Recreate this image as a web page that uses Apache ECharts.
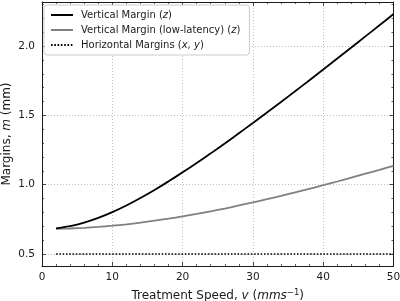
<!DOCTYPE html>
<html>
<head>
<meta charset="utf-8">
<script src="https://cdn.jsdelivr.net/npm/echarts@6/dist/echarts.min.js"></script>
<style>
  html, body { margin: 0; padding: 0; background: #fff; }
  #chart { width: 400px; height: 301px; }
</style>
</head>
<body>
<div id="chart"></div>
<script>
// 数据
var speeds = [2, 4, 6, 8, 10, 12, 14, 16, 18, 20, 22, 24, 26, 28, 30, 32, 34, 36, 38, 40, 42, 44, 46, 48, 50];
var verticalMargin = [0.685, 0.701, 0.726, 0.760, 0.802, 0.850, 0.904, 0.962, 1.024, 1.089, 1.156, 1.226, 1.297,
  1.371, 1.445, 1.521, 1.597, 1.674, 1.752, 1.831, 1.910, 1.990, 2.070, 2.150, 2.231];
var lowLatencyMargin = [0.681, 0.684, 0.689, 0.695, 0.704, 0.714, 0.726, 0.740, 0.755, 0.771, 0.789, 0.808, 0.828,
  0.850, 0.872, 0.895, 0.919, 0.944, 0.970, 0.996, 1.023, 1.051, 1.079, 1.107, 1.136];
var horizontalSpeeds = [2, 50];
var horizontalMargin = [0.5, 0.5];
var xTicks = [0, 10, 20, 30, 40, 50];

var seriesNames = ['Vertical Margin (z)', 'Vertical Margin (low-latency) (z)', 'Horizontal Margins (x, y)'];
var legendLabels = {
  'Vertical Margin (z)': '{n|Vertical Margin (}{i|z}{n|)}',
  'Vertical Margin (low-latency) (z)': '{n|Vertical Margin (low-latency) (}{i|z}{n|)}',
  'Horizontal Margins (x, y)': '{n|Horizontal Margins (}{i|x}{n|, }{i|y}{n|)}'
};

var FONT = 'DejaVu Sans';

function pairs(xs, ys) {
  var out = [];
  for (var i = 0; i < xs.length; i++) {
    out.push([xs[i], ys[i]]);
  }
  return out;
}

//坐标轴公共样式
function frameAxis(extra) {
  var base = {
    axisLine: { show: true, onZero: false, lineStyle: { color: '#1a1a1a', width: 1 } },
    axisTick: { show: true, inside: true, length: 4, lineStyle: { color: '#1a1a1a', width: 0.8 } },
    minorTick: { show: true, splitNumber: 5, length: 2, lineStyle: { color: '#1a1a1a', width: 0.7 } },
    splitLine: { show: false },
    axisLabel: { show: false }
  };
  for (var k in extra) base[k] = extra[k];
  return base;
}

var gridLine = { show: true, lineStyle: { color: '#b0b0b0', width: 0.8, type: [1, 2] } };

var option = {
  animation: false,
  backgroundColor: '#fff',
  textStyle: { fontFamily: FONT },
  grid: { left: 42, right: 6.5, top: 2, bottom: 35, outerBoundsMode: 'none', containLabel: false },
  legend: {
    orient: 'vertical',
    left: 44,
    top: 5,
    data: seriesNames,
    itemWidth: 22,
    itemHeight: 10,
    itemGap: 5,
    padding: [5, 9, 5, 6],
    backgroundColor: 'rgba(255,255,255,0.9)',
    borderColor: '#cccccc',
    borderWidth: 1,
    borderRadius: 3,
    itemStyle: { opacity: 0 },
    formatter: function(name) { return legendLabels[name]; },
    textStyle: {
      fontFamily: FONT,
      fontSize: 10,
      color: '#1a1a1a',
      padding: [0, 0, 0, 3],
      rich: {
        n: { fontFamily: FONT, fontSize: 10, color: '#1a1a1a' },
        i: { fontFamily: FONT, fontSize: 10, fontStyle: 'italic', color: '#1a1a1a' }
      }
    }
  },
  xAxis: [
    frameAxis({
      type: 'value', position: 'bottom', min: 0, max: 50, interval: 10,
      splitLine: gridLine,
      axisLabel: { show: true, margin: 6, fontFamily: FONT, fontSize: 10.5, color: '#1a1a1a',
        formatter: function(v) { return xTicks.indexOf(v) >= 0 ? String(v) : ''; } },
      name: '{n|Treatment Speed, }{i|v}{n| (}{i|mms}{s|−1}{n|)}',
      nameLocation: 'middle',
      nameGap: 22,
      nameMoveOverlap: false,
      nameTextStyle: {
        rich: {
          n: { fontFamily: FONT, fontSize: 12, color: '#1a1a1a', lineHeight: 16 },
          i: { fontFamily: FONT, fontSize: 12, fontStyle: 'italic', color: '#1a1a1a', lineHeight: 16 },
          s: { fontFamily: FONT, fontSize: 8.5, color: '#1a1a1a', lineHeight: 8, verticalAlign: 'top' }
        }
      }
    }),
    frameAxis({ type: 'value', position: 'top', min: 0, max: 50, interval: 10 })
  ],
  yAxis: [
    frameAxis({
      type: 'value', position: 'left', min: 0.4134, max: 2.318, splitNumber: 4,
      splitLine: gridLine,
      axisLabel: { show: true, margin: 7, fontFamily: FONT, fontSize: 10.5, color: '#1a1a1a',
        showMinLabel: false, showMaxLabel: false,
        formatter: function(v) { return Math.abs(v * 2 - Math.round(v * 2)) < 1e-6 ? v.toFixed(1) : ''; } },
      name: '{n|Margins, }{i|m}{n| (mm)}',
      nameLocation: 'middle',
      nameRotate: 90,
      nameGap: 29,
      nameMoveOverlap: false,
      nameTextStyle: {
        rich: {
          n: { fontFamily: FONT, fontSize: 12, color: '#1a1a1a' },
          i: { fontFamily: FONT, fontSize: 12, fontStyle: 'italic', color: '#1a1a1a' }
        }
      }
    }),
    frameAxis({ type: 'value', position: 'right', min: 0.4134, max: 2.318, splitNumber: 4 })
  ],
  series: [
    {
      name: seriesNames[0], type: 'line', symbol: 'none', z: 4, smooth: 0.2,
      data: pairs(speeds, verticalMargin),
      lineStyle: { color: '#000000', width: 1.8 },
      itemStyle: { color: '#000000' }
    },
    {
      name: seriesNames[1], type: 'line', symbol: 'none', z: 3, smooth: 0.2,
      data: pairs(speeds, lowLatencyMargin),
      lineStyle: { color: '#808080', width: 1.8 },
      itemStyle: { color: '#808080' }
    },
    {
      name: seriesNames[2], type: 'line', symbol: 'none', z: 3,
      data: pairs(horizontalSpeeds, horizontalMargin),
      lineStyle: { color: '#000000', width: 1.6, type: [1.6, 1.7] },
      itemStyle: { color: '#000000' }
    }
  ]
};

var myChart = echarts.init(document.getElementById('chart'));
myChart.setOption(option);
</script>
</body>
</html>
